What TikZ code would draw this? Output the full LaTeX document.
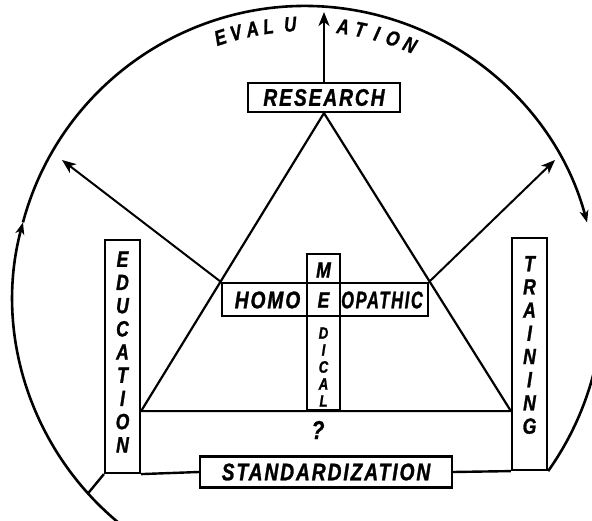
\documentclass[tikz,border=0pt]{standalone}
\usepackage{fontspec}
\usepackage{graphicx}
\usepackage{tikz}
\usetikzlibrary{arrows.meta,calc,positioning}
\newfontfamily\handfont[FakeStretch=0.8,LetterSpace=8,FakeBold=1.2]{Liberation Sans}
\tikzset{
  lblbox/.style ={rectangle, draw=black, line width=2.2pt, inner sep=0pt,
                  font=\handfont\bfseries\itshape\fontsize{24}{24}\selectfont},
  vbox/.style   ={rectangle, draw=black, line width=2.2pt, inner sep=0pt,
                  minimum width=35pt},
  vtxt/.style   ={align=center, inner sep=0pt,
                  font=\handfont\bfseries\itshape\fontsize{22}{23.2}\selectfont},
  crosstxt/.style={inner sep=0pt, font=\handfont\bfseries\itshape\fontsize{24}{24}\selectfont},
  evtxt/.style  ={inner sep=0pt, font=\handfont\bfseries\itshape\fontsize{21}{21}\selectfont},
  fl/.style     ={-{Stealth[length=14pt,width=11pt,inset=4pt]}, line width=2pt},
  tri/.style    ={line width=2.2pt, line join=miter},
  ln/.style     ={line width=2.4pt},
  circ/.style   ={line width=2.6pt},
  ctip/.style   ={-{Stealth[length=12pt,width=9pt,inset=3.5pt]}},
}

\begin{document}
\begin{tikzpicture}[x=1pt,y=-1pt]
  \useasboundingbox (0,0) rectangle (592,521);
  \coordinate (ctr) at (305,298);
  % boxes
  \node[lblbox, minimum width=152pt, minimum height=29pt] (research) at (324,97.5) {RESEARCH};
  \node[lblbox, minimum width=252pt, minimum height=31pt] (std) at (326,472) {STANDARDIZATION};
  \node[vbox, minimum height=233pt] (edu) at (122.5,356.5) {};
  \node[vbox, minimum height=232pt] (train) at (529.5,354) {};
  \node[vtxt] (edutxt) at ([yshift=4.5pt]edu.center) {E\\D\\U\\C\\A\\T\\I\\O\\N};
  \node[vtxt] (traintxt) at ([yshift=9pt]train.center) {T\\R\\A\\I\\N\\I\\N\\G};
  % the cross
  \node[draw, line width=2.2pt, minimum width=206pt, minimum height=33pt] (homeo) at (325,299.5) {};
  \node[draw, line width=2.2pt, minimum width=33pt, minimum height=156pt] (med) at (323.5,332) {};
  \node[crosstxt] (homo) at (267.5,300) {HOMO};
  \node[crosstxt] (opathic) at (382,300) {\scalebox{0.86}[1]{OPATHIC}};
  \node[vtxt] (mtxt) at (323.5,270) {M};
  \node[vtxt] (etxt) at (323.5,300) {E};
  \node[vtxt, font=\handfont\bfseries\itshape\fontsize{16.5}{17}\selectfont] (dical) at (323.5,367) {D\\I\\C\\A\\L};
  \node[vtxt, font=\handfont\bfseries\itshape\fontsize{26}{26}\selectfont] (qm) at (318,430) {?};
  % evaluation
  \foreach \a/\ch [count=\i] in {108/E,104.6/V,101.1/A,97.7/L,93.1/U,82/A,78.4/T,74.8/I,71.3/O,67.5/N}
    \node[evtxt, rotate=\a-90] (ev\i) at ($(ctr)+(\a:274pt)$) {\ch};
  % triangle
  \coordinate (bl) at (edu.east |- med.south);
  \coordinate (br) at (train.west |- med.south);
  \draw[tri] (research.south) -- (bl) -- (br) -- cycle;
  % arrows
  \coordinate (evtip) at (324,12);
  \coordinate (lefttip) at (62,160);
  \coordinate (righttip) at (555,160);
  \draw[fl] (research.north) -- (evtip);
  \draw[fl] (homeo.north west) -- (lefttip);
  \draw[fl] (homeo.north east) -- (righttip);
  % bottom
  \coordinate (cl) at ($(ctr)+(222:292pt)$);
  \draw[ln] (edu.south east) -- (std.west);
  \draw[ln] (std.east) -- (train.south west);
  \draw[ln] (edu.south west) -- (cl);
  % circle
  \draw[circ,ctip] ($(ctr)+(232:292pt)$) arc[start angle=232, end angle=165, radius=292pt];
  \draw[circ,ctip] ($(ctr)+(165:292pt)$) arc[start angle=165, end angle=15, radius=292pt];
  \draw[circ] (train.south east) arc[start angle=-35.4, end angle=-14, radius=297pt];
\end{tikzpicture}
\end{document}
